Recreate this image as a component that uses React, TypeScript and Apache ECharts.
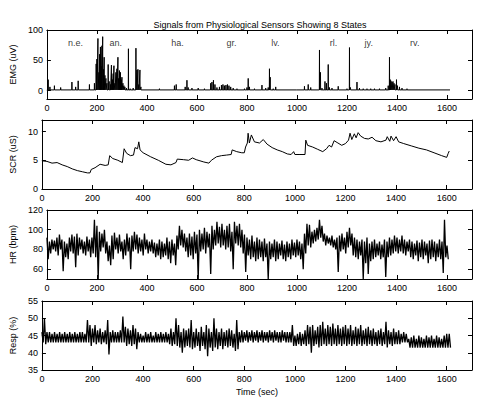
import React, { useEffect, useRef } from "react";
import * as echarts from "echarts";

const xTicks = [0, 200, 400, 600, 800, 1000, 1200, 1400, 1600];
const emgTicks = [0, 50, 100];
const scrTicks = [0, 5, 10];
const hrTicks = [60, 80, 100, 120];
const respTicks = [35, 40, 45, 50, 55];

const stateNames = ["n.e.", "an.", "ha.", "gr.", "lv.", "rl.", "jy.", "rv."];
const stateTimes = [114, 275, 522, 738, 914, 1146, 1287, 1471];

// EMG spikes (time in s, height in uV)
const emgT = [5, 12, 30, 55, 100, 115, 125, 170, 190, 197, 200, 204, 208, 211, 214, 217, 220, 223, 226, 229, 232, 236, 240, 245, 249, 254, 258, 262, 265, 268, 272, 276, 280, 284, 287, 290, 294, 297, 300, 304, 308, 312, 318, 326, 333, 345, 356, 360, 364, 368, 372, 376, 450, 510, 517, 553, 560, 565, 580, 605, 630, 655, 660, 666, 672, 680, 690, 698, 704, 710, 716, 722, 728, 735, 745, 760, 790, 800, 805, 810, 830, 860, 875, 885, 890, 893, 905, 915, 1000, 1030, 1045, 1055, 1085, 1090, 1094, 1100, 1112, 1118, 1125, 1130, 1140, 1165, 1200, 1210, 1214, 1240, 1250, 1265, 1280, 1295, 1310, 1330, 1355, 1365, 1370, 1373, 1376, 1380, 1384, 1388, 1392, 1398, 1402, 1410, 1420, 1440];
const emgV = [18, 6, 8, 5, 14, 6, 16, 10, 12, 44, 52, 86, 30, 60, 72, 40, 74, 89, 35, 55, 25, 20, 12, 43, 15, 10, 42, 18, 28, 41, 12, 30, 36, 55, 20, 33, 30, 18, 22, 12, 8, 6, 4, 69, 3, 4, 70, 34, 35, 10, 34, 6, 3, 8, 10, 6, 17, 5, 4, 4, 3, 12, 14, 17, 10, 5, 6, 9, 10, 8, 9, 10, 8, 6, 4, 3, 3, 5, 20, 6, 3, 9, 4, 5, 36, 22, 3, 6, 2, 7, 10, 5, 2, 67, 30, 4, 15, 12, 43, 5, 4, 7, 3, 71, 5, 14, 4, 3, 3, 3, 3, 3, 4, 8, 55, 18, 16, 14, 15, 12, 10, 18, 8, 6, 4, 3];
const emgBase = 1;
const emgEnd = 1612;

// SCR trace (time, uS)
const scrT = [0, 20, 40, 60, 80, 100, 120, 140, 160, 180, 190, 195, 210, 230, 250, 262, 268, 280, 300, 318, 325, 335, 350, 362, 368, 378, 383, 388, 400, 430, 460, 490, 510, 530, 535, 560, 580, 595, 610, 640, 660, 670, 690, 710, 730, 748, 752, 770, 790, 800, 805, 812, 815, 820, 828, 840, 860, 875, 890, 910, 930, 950, 970, 985, 995, 1000, 1020, 1040, 1043, 1050, 1070, 1090, 1110, 1125, 1135, 1145, 1155, 1170, 1185, 1200, 1212, 1218, 1225, 1235, 1242, 1250, 1260, 1275, 1290, 1305, 1320, 1340, 1360, 1365, 1375, 1380, 1390, 1400, 1410, 1430, 1460, 1490, 1520, 1550, 1580, 1600, 1606, 1610];
const scrV = [4.9, 4.8, 4.5, 4.6, 4.2, 3.9, 3.5, 3.2, 3.0, 2.8, 2.8, 3.4, 3.7, 4.3, 4.1, 4.2, 5.8, 5.3, 5.0, 4.6, 7.0, 6.2, 5.8, 5.9, 7.2, 7.0, 8.2, 6.8, 6.3, 5.6, 5.0, 4.3, 4.2, 4.6, 5.2, 5.1, 5.0, 5.4, 5.1, 4.7, 4.5, 5.0, 5.6, 5.8, 5.9, 6.0, 6.8, 6.5, 6.3, 6.3, 7.3, 8.0, 9.7, 8.0, 9.4, 8.2, 8.0, 8.6, 7.8, 7.2, 6.8, 6.5, 6.1, 6.0, 6.5, 6.0, 6.0, 6.0, 8.5, 7.6, 7.3, 6.9, 6.5, 7.0, 7.6, 7.3, 8.4, 8.0, 7.6, 7.9, 8.5, 9.7, 8.6, 9.6, 8.9, 9.8, 9.2, 8.8, 8.7, 9.0, 8.4, 8.2, 8.5, 9.1, 8.3, 9.2, 8.4, 9.1, 8.2, 7.9, 7.5, 7.1, 6.8, 6.3, 5.8, 5.5, 6.2, 6.6];

// HR: upper / lower excursions per 10 s window (bpm), from t=0 to t=1600
const hrHi = [92, 88, 90, 89, 92, 95, 90, 88, 86, 92, 95, 93, 96, 92, 90, 88, 93, 90, 92, 110, 104, 98, 96, 100, 88, 84, 94, 97, 92, 95, 88, 90, 96, 92, 94, 98, 95, 92, 90, 96, 90, 88, 90, 87, 86, 90, 88, 86, 92, 88, 90, 86, 94, 104, 100, 96, 92, 96, 93, 98, 95, 100, 96, 102, 98, 96, 104, 100, 108, 103, 106, 100, 104, 106, 98, 108, 104, 106, 100, 95, 92, 90, 94, 88, 92, 90, 88, 91, 86, 88, 86, 90, 88, 86, 89, 85, 88, 86, 90, 87, 90, 88, 86, 96, 106, 105, 98, 100, 102, 110, 104, 96, 94, 92, 94, 90, 92, 94, 96, 92, 98, 102, 96, 92, 90, 88, 90, 88, 92, 86, 88, 90, 86, 88, 85, 90, 88, 92, 90, 94, 92, 90, 94, 90, 88, 90, 88, 86, 89, 87, 90, 88, 86, 89, 90, 88, 86, 90, 88, 110, 84];
const hrLo = [70, 76, 80, 78, 74, 80, 58, 72, 70, 78, 76, 62, 74, 80, 76, 74, 78, 72, 76, 72, 50, 78, 82, 76, 68, 64, 70, 80, 76, 78, 70, 74, 78, 60, 78, 80, 76, 78, 74, 80, 76, 78, 76, 72, 74, 70, 72, 74, 70, 66, 74, 64, 80, 84, 82, 78, 72, 74, 70, 76, 50, 78, 80, 76, 82, 55, 80, 84, 86, 82, 84, 80, 82, 78, 60, 86, 84, 82, 76, 57, 74, 70, 72, 68, 70, 72, 68, 72, 50, 70, 72, 68, 70, 74, 70, 68, 72, 70, 74, 72, 74, 70, 60, 76, 84, 82, 86, 88, 90, 92, 88, 84, 86, 84, 82, 80, 57, 78, 80, 76, 82, 84, 74, 72, 70, 74, 50, 66, 55, 68, 70, 72, 74, 70, 72, 52, 72, 74, 76, 78, 76, 78, 76, 74, 78, 72, 70, 74, 68, 72, 70, 74, 66, 70, 72, 68, 72, 70, 56, 72, 70];

// Resp: upper / lower excursions per 10 s window (%), from t=0 to t=1610
const respHi = [46, 50, 46, 46, 45.5, 46, 45.5, 46, 45.5, 46, 45.5, 46, 45.5, 46, 45.5, 46, 46, 45.5, 49.5, 48, 47, 48, 46.5, 47, 46, 46.5, 49.5, 46, 46.5, 46, 46, 46.5, 50.5, 47.5, 47, 46.5, 48, 47, 46, 45.5, 45, 46, 45.5, 46, 45, 46, 45.5, 46, 45.5, 46, 45.5, 47, 46, 50, 48, 46, 47, 46.5, 47, 49.5, 46, 47, 46, 47.5, 46, 48, 47, 46, 50, 47, 46, 47, 46, 46.5, 47, 46.5, 45.5, 49.5, 46, 46.5, 46, 46.5, 46, 46.5, 46, 46.5, 46, 46.5, 46, 46, 46.5, 46, 46.5, 46, 46, 46.5, 46, 46, 46, 48, 45, 45.5, 46, 45.5, 46.5, 48, 47.5, 48, 46.5, 47.5, 48, 49, 47, 48, 47.5, 48.5, 47, 48, 47, 47.5, 48, 47, 48, 46.5, 47.5, 47, 48, 46.5, 47, 47.5, 46.5, 47, 46, 46.5, 47, 46, 49, 46.5, 46, 47, 46, 46.5, 45.5, 46, 45.5, 44, 44.5, 45, 44, 45, 44.5, 44, 45, 44.5, 45, 44, 45, 44.5, 44, 45, 45.5, 45.5];
const respLo = [43, 42.5, 43, 43, 43, 43, 43, 43, 43, 43, 43, 43, 43, 43, 43, 43, 43, 43, 43, 42, 43, 42.5, 43, 42.5, 43, 42.5, 39.5, 43, 43, 43, 43, 43, 43, 42, 42.5, 42, 42.5, 41, 43, 43, 43, 43, 43, 43, 43, 43, 43, 43, 43, 43, 42.5, 42, 42.5, 42, 41.5, 40, 41.5, 42, 41.5, 41, 41.5, 42, 40.5, 42, 41, 39, 41.5, 40.5, 41.5, 41, 42, 41, 42, 41.5, 42, 41.5, 40.5, 41, 43, 43, 43.5, 43, 43.5, 43, 43.5, 43, 43.5, 43, 43.5, 43, 43.5, 43, 43.5, 43, 43, 43.5, 43, 43, 43, 42, 42, 42.5, 42, 42.5, 42, 42.5, 40, 42, 42.5, 41.5, 42, 42.5, 42, 42.5, 42, 42.5, 42, 42.5, 42, 42.5, 42, 42.5, 42, 42.5, 42, 42.5, 42, 42.5, 42, 42.5, 42, 42.5, 42, 42.5, 42, 42.5, 41.5, 42.5, 42, 42.5, 42.5, 42.5, 43, 43, 43, 41.5, 41.5, 41.5, 41.5, 41.5, 41.5, 41.5, 41.5, 41.5, 41.5, 41.5, 41.5, 41.5, 41.5, 41.5, 41.5, 41.5];

const FONT = "Liberation Sans, Arial, Helvetica, sans-serif";

function buildEmg(): number[][] {
  const pts: number[][] = [[0, emgBase]];
  for (let i = 0; i < emgT.length; i++) {
    pts.push([emgT[i] - 0.6, emgBase], [emgT[i], emgV[i]], [emgT[i] + 0.6, emgBase]);
  }
  pts.push([emgEnd, emgBase]);
  return pts;
}

function interleave(hi: number[], lo: number[], step: number): number[][] {
  const pts: number[][] = [];
  for (let i = 0; i < hi.length; i++) {
    pts.push([i * step, hi[i]], [i * step + step / 2, lo[i]]);
  }
  return pts;
}

export default function App() {
  const ref = useRef<HTMLDivElement>(null);
  useEffect(() => {
    if (!ref.current) return;
    const chart = echarts.init(ref.current, null, { renderer: "svg" });
    const grids = [
      { top: 30, height: 69 },
      { top: 120, height: 69 },
      { top: 210, height: 69 },
      { top: 301, height: 69 },
    ].map((g) => ({ left: 39, right: 11, top: g.top, height: g.height, show: false }));

    const lineStyle = { color: "#000", width: 1 };
    const tickStyle = { show: true, inside: true, length: 4, lineStyle: { color: "#000", width: 1 } };
    const labelStyle = {
      color: "#000", fontSize: 9, fontFamily: FONT,
      formatter: (v: number) => String(v),
    };

    const xAxes: any[] = [];
    const yAxes: any[] = [];
    const yDefs = [
      { min: -14, max: 100, ticks: emgTicks, name: "EMG (uV)" },
      { min: 0, max: 12, ticks: scrTicks, name: "SCR (uS)" },
      { min: 50, max: 120, ticks: hrTicks, name: "HR (bpm)" },
      { min: 35, max: 55, ticks: respTicks, name: "Resp (%)" },
    ];
    for (let i = 0; i < 4; i++) {
      xAxes.push({
        type: "value", gridIndex: i, min: 0, max: 1700, position: "bottom",
        axisLine: { show: true, onZero: false, lineStyle },
        axisTick: { ...tickStyle, customValues: xTicks },
        axisLabel: { ...labelStyle, margin: 4, customValues: xTicks },
        splitLine: { show: false },
        name: i === 3 ? "Time (sec)" : "",
        nameLocation: "middle", nameGap: 17,
        nameTextStyle: { color: "#000", fontSize: 9, fontFamily: FONT },
      });
      xAxes.push({
        type: "value", gridIndex: i, min: 0, max: 1700, position: "top",
        axisLine: { show: true, onZero: false, lineStyle },
        axisTick: { ...tickStyle, customValues: xTicks },
        axisLabel: { show: false },
        splitLine: { show: false },
      });
      const d = yDefs[i];
      yAxes.push({
        type: "value", gridIndex: i, min: d.min, max: d.max, position: "left",
        axisLine: { show: true, onZero: false, lineStyle },
        axisTick: { ...tickStyle, customValues: d.ticks },
        axisLabel: { ...labelStyle, margin: 4, customValues: d.ticks },
        splitLine: { show: false },
        name: d.name, nameLocation: "middle", nameGap: 17, nameRotate: 90,
        nameTextStyle: { color: "#000", fontSize: 9, fontFamily: FONT },
      });
      yAxes.push({
        type: "value", gridIndex: i, min: d.min, max: d.max, position: "right",
        axisLine: { show: true, onZero: false, lineStyle },
        axisTick: { ...tickStyle, customValues: d.ticks },
        axisLabel: { show: false },
        splitLine: { show: false },
      });
    }

    const mk = (xi: number, yi: number, data: number[][], w: number) => ({
      type: "line", xAxisIndex: xi, yAxisIndex: yi, data, showSymbol: false, symbol: "none",
      lineStyle: { color: "#000", width: w }, silent: true,
    });

    chart.setOption({
      animation: false,
      backgroundColor: "#fff",
      title: {
        text: "Signals from Physiological Sensors Showing 8 States",
        left: 255, top: 15, textAlign: "center",
        textStyle: { color: "#000", fontSize: 9, fontWeight: "normal", fontFamily: FONT },
      },
      grid: grids,
      xAxis: xAxes,
      yAxis: yAxes,
      series: [
        mk(0, 0, buildEmg(), 1),
        mk(2, 2, scrT.map((t, i) => [t, scrV[i]]), 1),
        mk(4, 4, interleave(hrHi, hrLo, 10), 1.3),
        mk(6, 6, interleave(respHi, respLo, 10), 1.3),
        {
          type: "scatter", xAxisIndex: 0, yAxisIndex: 0, symbolSize: 0, silent: true,
          data: stateNames.map((n, i) => ({ name: n, value: [stateTimes[i], 79] })),
          label: { show: true, position: "inside", formatter: "{b}", color: "#000", fontSize: 9, fontFamily: FONT },
        },
      ],
    });
    return () => chart.dispose();
  }, []);
  return (
    <div
      ref={ref}
      style={{ position: "absolute", left: 0, top: 0, width: 483, height: 398, background: "#fff" }}
    />
  );
}
